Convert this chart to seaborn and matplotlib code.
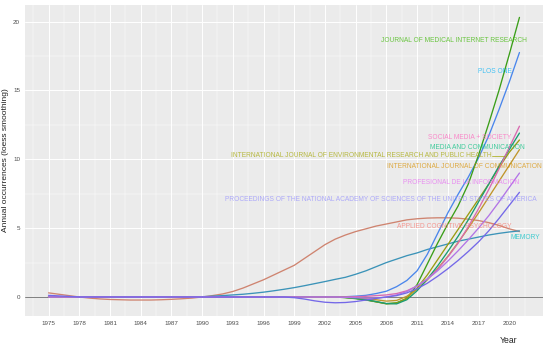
import matplotlib
matplotlib.use("Agg")
import matplotlib.pyplot as plt
import seaborn as sns
import pandas as pd

years = list(range(1975, 2022))

journals = [
    "APPLIED COGNITIVE PSYCHOLOGY",
    "INTERNATIONAL JOURNAL OF COMMUNICATION",
    "INTERNATIONAL JOURNAL OF ENVIRONMENTAL RESEARCH AND PUBLIC HEALTH",
    "JOURNAL OF MEDICAL INTERNET RESEARCH",
    "MEDIA AND COMMUNICATION",
    "MEMORY",
    "PLOS ONE",
    "PROCEEDINGS OF THE NATIONAL ACADEMY OF SCIENCES OF THE UNITED STATES OF AMERICA",
    "PROFESIONAL DE LA INFORMACION",
    "SOCIAL MEDIA + SOCIETY",
]

Z29 = [0.0, 0.0, 0.0, 0.0, 0.0, 0.0, 0.0, 0.0, 0.0, 0.0,
       0.0, 0.0, 0.0, 0.0, 0.0, 0.0, 0.0, 0.0, 0.0, 0.0,
       0.0, 0.0, 0.0, 0.0, 0.0, 0.0, 0.0, 0.0, 0.0]  # 1975-2003

applied_cognitive = [0.30, 0.20, 0.10, 0.00, -0.08, -0.14, -0.18, -0.20, -0.22, -0.22,
                     -0.22, -0.20, -0.17, -0.13, -0.08, 0.00, 0.10, 0.22, 0.40, 0.65,
                     0.95, 1.25, 1.60, 1.95, 2.30, 2.80, 3.30, 3.80, 4.20, 4.50,
                     4.75, 4.95, 5.15, 5.30, 5.45, 5.60, 5.68, 5.73, 5.75, 5.75,
                     5.72, 5.65, 5.55, 5.40, 5.20, 4.95, 4.75]
memory = [0.0, 0.0, 0.0, 0.0, 0.0, 0.0, 0.0, 0.0, 0.0, 0.0,
          0.0, 0.0, 0.0, 0.0, 0.0, 0.02, 0.06, 0.10, 0.15, 0.20,
          0.27, 0.35, 0.45, 0.56, 0.68, 0.82, 0.97, 1.12, 1.28, 1.43,
          1.65, 1.90, 2.20, 2.50, 2.75, 3.00, 3.20, 3.45, 3.65, 3.85,
          4.05, 4.20, 4.35, 4.50, 4.62, 4.72, 4.80]
jmir = Z29 + [-0.05, -0.12, -0.22, -0.35, -0.48, -0.42, -0.10, 0.90, 2.40,
              3.90, 5.30, 6.60, 8.20, 10.30, 12.60, 15.00, 17.60, 20.30]
plos_one = Z29 + [0.02, 0.06, 0.12, 0.25, 0.42, 0.75, 1.20, 1.90, 3.10,
                  4.60, 6.10, 7.45, 8.70, 10.10, 11.70, 13.60, 15.60, 17.75]
social_media = Z29 + [0.00, 0.02, 0.05, 0.10, 0.15, 0.25, 0.45, 0.80, 1.30,
                      2.00, 2.90, 3.90, 5.10, 6.40, 7.80, 9.30, 10.85, 12.40]
media_comm = Z29 + [-0.03, -0.10, -0.20, -0.33, -0.48, -0.50, -0.20, 0.45, 1.30,
                    2.25, 3.30, 4.40, 5.60, 6.90, 8.20, 9.50, 10.70, 11.90]
ijerph = Z29 + [-0.03, -0.10, -0.20, -0.35, -0.50, -0.45, -0.10, 0.65, 1.60,
                2.70, 3.80, 4.90, 6.00, 7.10, 8.20, 9.40, 10.50, 11.40]
ij_comm = Z29 + [-0.02, -0.06, -0.12, -0.20, -0.30, -0.25, 0.05, 0.55, 1.25,
                 2.05, 2.95, 3.95, 5.00, 6.10, 7.25, 8.40, 9.55, 10.70]
profesional = Z29 + [-0.02, -0.05, -0.08, -0.08, 0.00, 0.15, 0.40, 0.80, 1.30,
                     1.90, 2.60, 3.35, 4.15, 5.00, 5.90, 6.90, 7.95, 9.00]
pnas = [0.12, 0.08, 0.04, 0.0, 0.0, 0.0, 0.0, 0.0, 0.0, 0.0,
        0.0, 0.0, 0.0, 0.0, 0.0, 0.0, 0.0, 0.0, 0.0, 0.0,
        0.0, 0.0, 0.0, 0.0, -0.05, -0.15, -0.28, -0.38, -0.42, -0.40,
        -0.33, -0.22, -0.10, 0.00, 0.10, 0.30, 0.60, 1.00, 1.50, 2.05,
        2.65, 3.30, 4.00, 4.80, 5.70, 6.65, 7.60]

series = {
    journals[0]: applied_cognitive,
    journals[1]: ij_comm,
    journals[2]: ijerph,
    journals[3]: jmir,
    journals[4]: media_comm,
    journals[5]: memory,
    journals[6]: plos_one,
    journals[7]: pnas,
    journals[8]: profesional,
    journals[9]: social_media,
}

x_ticks = [1975, 1978, 1981, 1984, 1987, 1990, 1993, 1996, 1999, 2002, 2005, 2008, 2011, 2014, 2017, 2020]
y_ticks = [0, 5, 10, 15, 20]

colors = ["#F8766D", "#D89000", "#A3A500", "#39B600", "#00BF7D",
          "#00BFC4", "#00B0F6", "#9590FF", "#E76BF3", "#FF62BC"]
line_colors = ["#CF8470", "#C0952A", "#9A9C10", "#3A9E18", "#1A9C72",
               "#3B93B8", "#4A86EC", "#7468E8", "#B274E6", "#D86AB0"]

# label placement (year, value) for the direct labels
label_pos = {
    journals[0]: (2014.6, 5.15),
    journals[1]: (2015.6, 9.5),
    journals[2]: (2005.6, 10.25),
    journals[3]: (2014.6, 18.6),
    journals[4]: (2016.9, 10.85),
    journals[5]: (2021.6, 4.35),
    journals[6]: (2018.6, 16.4),
    journals[7]: (2007.5, 7.05),
    journals[8]: (2015.3, 8.3),
    journals[9]: (2016.1, 11.6),
}

rows = []
for name, vals in series.items():
    assert len(vals) == len(years), name
    for yr, v in zip(years, vals):
        rows.append({"Year": yr, "value": v, "journal": name})
df = pd.DataFrame(rows)

sns.set_theme(style="darkgrid", rc={
    "axes.facecolor": "#EBEBEB",
    "grid.color": "white",
    "figure.facecolor": "white",
})
plt.rcParams["font.family"] = ["Liberation Sans", "DejaVu Sans"]

fig = plt.figure(figsize=(5.5, 3.44), dpi=100)
ax = fig.add_axes([25 / 550, 1 - 316 / 344, 518 / 550, 311 / 344])

draw_order = [journals[i] for i in [0, 5, 6, 3, 2, 1, 4, 9, 8, 7]]
palette = dict(zip(journals, line_colors))
ax.axhline(0, color="#7F7F7F", lw=0.7, zorder=1)
sns.lineplot(data=df, x="Year", y="value", hue="journal", hue_order=draw_order,
             palette=palette, estimator=None, legend=False, lw=0.95, ax=ax)

for name, col in zip(journals, colors):
    xx, yy = label_pos[name]
    ax.text(xx, yy, name, color=col, alpha=0.72, fontsize=4.75, ha="center", va="center")
# leader line for IJERPH label
ax.plot([2018.3, 2019.5], [10.25, 10.25], color=colors[2], lw=0.6, alpha=0.8)

ax.set_xlim(1972.7, 2023.3)
ax.set_ylim(-1.38, 21.2)
ax.set_xticks(x_ticks)
ax.set_xticks([t + 1.5 for t in [1972] + x_ticks], minor=True)
ax.set_yticks(y_ticks)
ax.set_yticks([2.5, 7.5, 12.5, 17.5], minor=True)
ax.grid(which="major", color="white", lw=0.7)
ax.grid(which="minor", color="white", lw=0.35)
ax.tick_params(which="major", length=2, width=0.5, color="#333333",
               labelsize=4.5, labelcolor="#4D4D4D", pad=1.5)
ax.tick_params(which="minor", length=0)
for s in ax.spines.values():
    s.set_visible(False)

ax.set_xlabel("Year", fontsize=6.2, color="#222222")
ax.xaxis.set_label_coords((509 - 25) / 518, -0.063)
ax.set_ylabel("Annual occurrences (loess smoothing)", fontsize=6, color="#222222")
ax.yaxis.set_label_coords(-0.03, 0.5)

fig.savefig("out.png", dpi=100)
